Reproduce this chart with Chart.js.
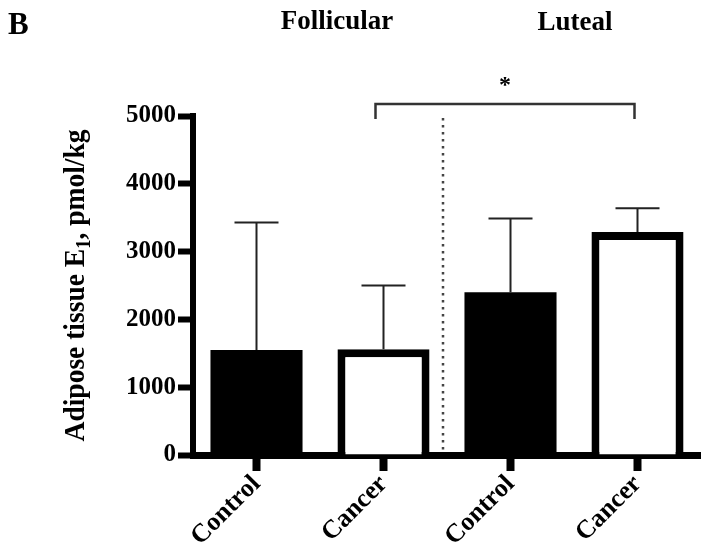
<!DOCTYPE html>
<html>
<head>
<meta charset="utf-8">
<script src="https://cdn.jsdelivr.net/npm/chart.js@4.4.1/dist/chart.umd.min.js"></script>
<style>
  html, body { margin: 0; padding: 0; background: #fff; }
  #wrap { width: 701px; height: 557px; }
</style>
</head>
<body>
<div id="wrap"><canvas id="chart" width="701" height="557"></canvas></div>
<script>
// Chart data
const categories = ['Control', 'Cancer', 'Control', 'Cancer'];
const meanValues = [1550, 1560, 2400, 3290];
const sdValues = [1880, 940, 1090, 350];
const phaseLabels = ['Follicular', 'Luteal'];
const yTicks = [0, 1000, 2000, 3000, 4000, 5000];
const yTitleParts = ['Adipose tissue E', '1', ', pmol/kg'];
const panelLetter = 'B';
const sigMark = '*';

const serif = "'Liberation Serif', 'Times New Roman', serif";

// Error bars, separators, headings and y title
const annotations = {
  id: 'annotations',
  afterDatasetsDraw(chart) {
    const { ctx, scales: { x, y }, chartArea } = chart;
    ctx.save();

    // error bars (upper only)
    ctx.strokeStyle = '#222';
    ctx.lineWidth = 2;
    meanValues.forEach((m, i) => {
      const cx = x.getPixelForValue(i);
      const yTop = y.getPixelForValue(m + sdValues[i]);
      const yBar = y.getPixelForValue(m);
      ctx.beginPath();
      ctx.moveTo(cx, yBar);
      ctx.lineTo(cx, yTop);
      ctx.moveTo(cx - 22, yTop);
      ctx.lineTo(cx + 22, yTop);
      ctx.stroke();
    });

    // dotted separator between phases
    const sepX = (x.getPixelForValue(1) + x.getPixelForValue(2)) / 2 - 4;
    ctx.strokeStyle = '#444';
    ctx.lineWidth = 2.5;
    ctx.setLineDash([2.5, 4.5]);
    ctx.beginPath();
    ctx.moveTo(sepX, chartArea.top + 2);
    ctx.lineTo(sepX, chartArea.bottom - 3);
    ctx.stroke();
    ctx.setLineDash([]);

    // significance bracket Cancer vs Cancer
    const bx1 = x.getPixelForValue(1) - 8;
    const bx2 = x.getPixelForValue(3) - 3;
    const by = chartArea.top - 12;
    ctx.strokeStyle = '#333';
    ctx.lineWidth = 2.5;
    ctx.beginPath();
    ctx.moveTo(bx1, by + 15);
    ctx.lineTo(bx1, by);
    ctx.lineTo(bx2, by);
    ctx.lineTo(bx2, by + 15);
    ctx.stroke();

    ctx.fillStyle = '#000';
    ctx.textAlign = 'center';
    ctx.textBaseline = 'alphabetic';
    ctx.font = 'bold 24px ' + serif;
    ctx.fillText(sigMark, (bx1 + bx2) / 2, by - 12);

    // headings
    ctx.font = 'bold 31px ' + serif;
    ctx.textAlign = 'left';
    ctx.fillText(panelLetter, 8, 34);
    ctx.font = 'bold 27px ' + serif;
    ctx.textAlign = 'center';
    const g1 = (x.getPixelForValue(0) + x.getPixelForValue(1)) / 2 + 17;
    const g2 = (x.getPixelForValue(2) + x.getPixelForValue(3)) / 2 + 1;
    ctx.fillText(phaseLabels[0], g1, 29);
    ctx.fillText(phaseLabels[1], g2, 30);

    // y axis title with subscript
    const bigFont = 'bold 30px ' + serif;
    const smallFont = 'bold 20px ' + serif;
    ctx.font = bigFont;
    const w0 = ctx.measureText(yTitleParts[0]).width;
    const w2 = ctx.measureText(yTitleParts[2]).width;
    ctx.font = smallFont;
    const w1 = ctx.measureText(yTitleParts[1]).width;
    const total = w0 + w1 + w2;
    const target = 312;
    ctx.translate(77, (chartArea.top + chartArea.bottom) / 2);
    ctx.rotate(-Math.PI / 2);
    ctx.scale(target / total, 1);
    ctx.textAlign = 'left';
    let px = -total / 2;
    const base = 7;
    ctx.font = bigFont;
    ctx.fillText(yTitleParts[0], px, base);
    px += w0;
    ctx.font = smallFont;
    ctx.fillText(yTitleParts[1], px, base + 6);
    px += w1;
    ctx.font = bigFont;
    ctx.fillText(yTitleParts[2], px, base);

    ctx.restore();
  }
};

new Chart(document.getElementById('chart'), {
  type: 'bar',
  data: {
    labels: categories,
    datasets: [{
      data: meanValues,
      backgroundColor: ['#000', '#fff', '#000', '#fff'],
      borderColor: '#000',
      borderWidth: [0, 8, 0, 8],
      borderSkipped: 'start',
      categoryPercentage: 1,
      barPercentage: 0.725,
    }],
  },
  options: {
    responsive: false,
    animation: false,
    devicePixelRatio: 1,
    layout: { padding: { top: 116, left: 0, right: 0, bottom: 0 } },
    plugins: {
      legend: { display: false },
      tooltip: { enabled: false },
    },
    scales: {
      x: {
        grid: {
          display: true,
          drawOnChartArea: false,
          offset: false,
          tickLength: 16,
          tickWidth: 8,
          tickColor: '#000',
        },
        border: { display: true, color: '#000', width: 7 },
        ticks: {
          color: '#000',
          font: { family: serif, size: 26, weight: 'bold' },
          minRotation: 45,
          maxRotation: 45,
          autoSkip: false,
          padding: -2,
        },
        afterFit: (s) => { s.height = 557 - 455; },
      },
      y: {
        min: 0,
        max: 5000,
        afterBuildTicks: (s) => { s.ticks = yTicks.map((v) => ({ value: v })); },
        grid: {
          display: true,
          drawOnChartArea: false,
          tickLength: 15,
          tickWidth: 6,
          tickColor: '#000',
        },
        border: { display: true, color: '#000', width: 6 },
        ticks: {
          color: '#000',
          font: { family: serif, size: 25, weight: 'bold' },
          padding: 2,
          callback: (v) => String(v),
        },
        afterFit: (s) => { s.width = 193; },
      },
    },
  },
  plugins: [annotations],
});
</script>
</body>
</html>
